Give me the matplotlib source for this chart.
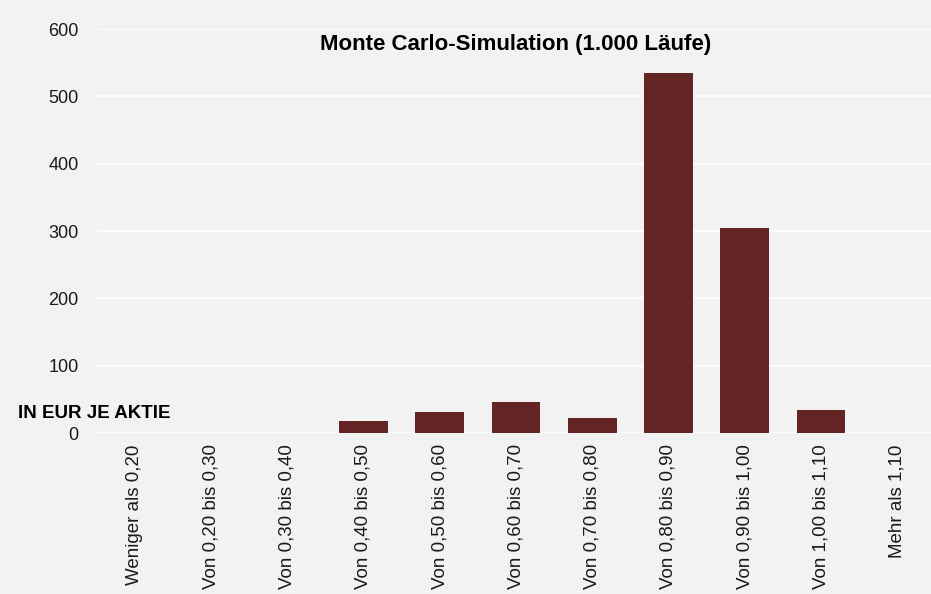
import numpy as np
import matplotlib.pyplot as plt

plt.rcParams['font.family'] = ['Liberation Sans', 'DejaVu Sans']

categories = ["Weniger als 0,20", "Von 0,20 bis 0,30", "Von 0,30 bis 0,40",
              "Von 0,40 bis 0,50", "Von 0,50 bis 0,60", "Von 0,60 bis 0,70",
              "Von 0,70 bis 0,80", "Von 0,80 bis 0,90", "Von 0,90 bis 1,00",
              "Von 1,00 bis 1,10", "Mehr als 1,10"]
counts = [0, 0, 0, 18, 31, 46, 22, 535, 305, 34, 0]
yticks = [0, 100, 200, 300, 400, 500, 600]

bg = "#f2f2f2"
bar_color = "#632523"

fig = plt.figure(figsize=(9.31, 5.94), dpi=100, facecolor=bg)
ax = fig.add_axes([96.6 / 931, 0.271, 838.75 / 931, 0.680], facecolor=bg)

x = np.arange(len(categories))
ax.bar(x, counts, width=0.64, color=bar_color, zorder=3)

ax.set_xlim(-0.5, len(categories) - 0.5)
ax.set_ylim(0, 600)
ax.set_yticks(yticks)
ax.set_yticklabels([str(v) for v in yticks], fontsize=13, color="#1a1a1a")
ax.set_xticks(x)
ax.set_xticklabels(categories, rotation=90, fontsize=13.5, color="#1a1a1a",
                   ha="center", va="top")
ax.tick_params(axis="both", length=0)
ax.tick_params(axis="x", pad=8)
ax.tick_params(axis="y", pad=13)

# white horizontal grid on grey background
ax.grid(axis="y", color="white", linewidth=1.2, zorder=0)
for s in ax.spines.values():
    s.set_visible(False)

ax.text(0.5, 0.963, "Monte Carlo-Simulation (1.000 Läufe)", transform=ax.transAxes,
        ha="center", va="center", fontsize=16, fontweight="bold")
fig.text(18 / 931, 1 - 413 / 594, "IN EUR JE AKTIE", ha="left", va="center",
         fontsize=13.5, fontweight="bold")

plt.savefig("out.png", dpi=100, facecolor=bg)
plt.close()
